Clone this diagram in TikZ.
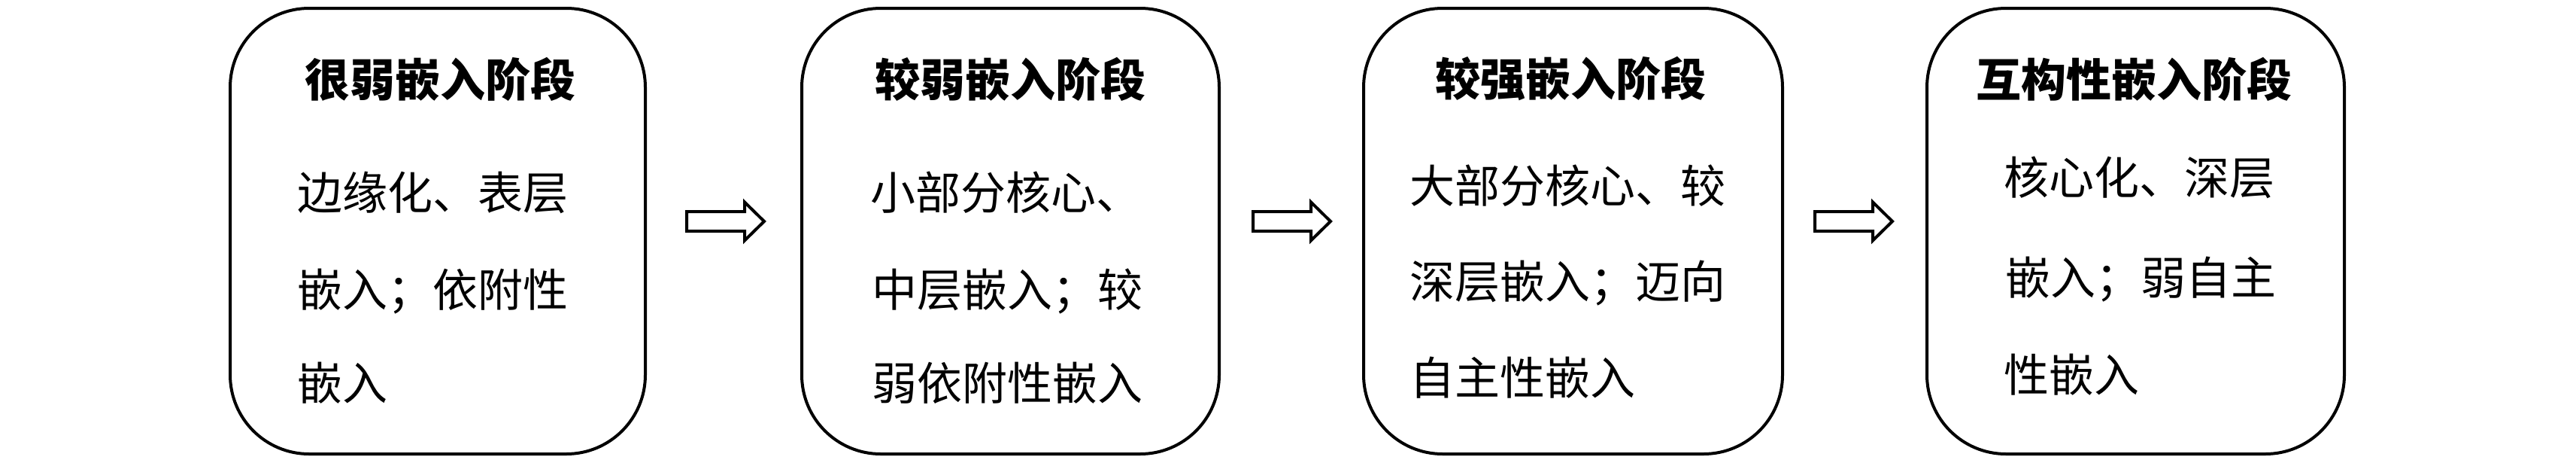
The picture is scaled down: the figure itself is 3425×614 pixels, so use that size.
\documentclass[tikz,border=0pt]{standalone}
\usepackage{fontspec}
\newfontfamily\cjk{Noto Sans CJK SC}
\begin{document}
\begin{tikzpicture}[x=1pt,y=-1pt,
  stagebox/.style={draw=black,line width=4pt,rounded corners=105pt,inner sep=0pt},
  title/.style={font=\cjk\bfseries\fontsize{60}{60}\selectfont,inner sep=0pt},
  body/.style={font=\cjk\fontsize{60}{60}\selectfont,inner sep=0pt,anchor=west},
  blockarrow/.style={draw=black,line width=4pt,fill=white,line join=miter},
  blockarrowshape/.pic={\draw[blockarrow] (-51.5,-13) -- (25.5,-13) -- (25.5,-25.5) -- (51.5,0) -- (25.5,25.5) -- (25.5,13) -- (-51.5,13) -- cycle;}]
\useasboundingbox (0,0) rectangle (3425,614);
% boxes
\draw[stagebox] (306,11) rectangle (858,603);
\draw[stagebox] (1066,11) rectangle (1621,603);
\draw[stagebox] (1813,11) rectangle (2370,603);
\draw[stagebox] (2562,11) rectangle (3117,603);
% titles
\node[title] (t1) at (585,105) {很弱嵌入阶段};
\node[title] (t2) at (1343,105) {较弱嵌入阶段};
\node[title] (t3) at (2088,105) {较强嵌入阶段};
\node[title] (t4) at (2837,105) {互构性嵌入阶段};
% body box 1
\node[body] (l11) at (395,256) {边缘化、表层};
\node[body] (l12) at (395,387) {嵌入；依附性};
\node[body] (l13) at (395,509) {嵌入};
% body box 2
\node[body] (l21) at (1157,256) {小部分核心、};
\node[body] (l22) at (1159,387) {中层嵌入；较};
\node[body] (l23) at (1159,509) {弱依附性嵌入};
% body box 3
\node[body] (l31) at (1874,247) {大部分核心、较};
\node[body] (l32) at (1874,376) {深层嵌入；迈向};
\node[body] (l33) at (1874,502) {自主性嵌入};
% body box 4
\node[body] (l41) at (2664,236) {核心化、深层};
\node[body] (l42) at (2666,371) {嵌入；弱自主};
\node[body] (l43) at (2664,498) {性嵌入};
% arrows
\coordinate (a1) at (964.5,294);
\coordinate (a2) at (1717.5,294);
\coordinate (a3) at (2464.5,294);
\pic at (a1) {blockarrowshape};
\pic at (a2) {blockarrowshape};
\pic at (a3) {blockarrowshape};
\end{tikzpicture}
\end{document}
